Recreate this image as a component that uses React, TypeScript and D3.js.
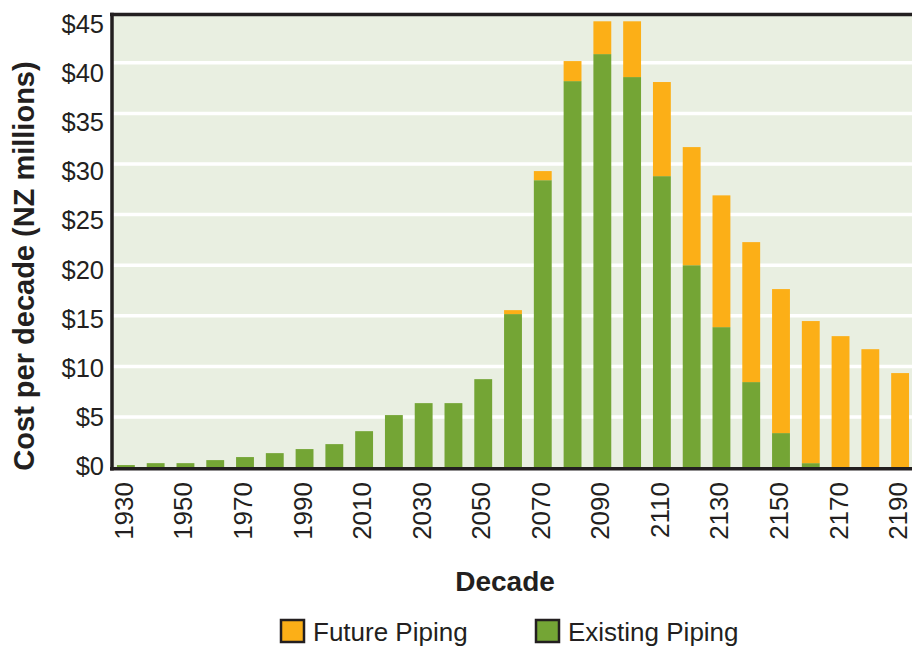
import React from "react";
import * as d3 from "d3";

const decades = [
  "1930", "1940", "1950", "1960", "1970", "1980", "1990", "2000", "2010",
  "2020", "2030", "2040", "2050", "2060", "2070", "2080", "2090", "2100",
  "2110", "2120", "2130", "2140", "2150", "2160", "2170", "2180", "2190",
];
const existingPiping = [
  0.25, 0.44, 0.44, 0.74, 1.04, 1.43, 1.83, 2.32, 3.6, 5.19, 6.37, 6.37, 8.74,
  15.17, 28.4, 38.19, 40.86, 38.59, 28.8, 20.0, 13.88, 8.45, 3.41, 0.44, 0, 0, 0,
];
const futurePiping = [
  0, 0, 0, 0, 0, 0, 0, 0, 0, 0, 0, 0, 0, 0.39, 0.9, 1.98, 3.24, 5.51, 9.3,
  11.67, 13.02, 13.83, 14.23, 14.04, 12.99, 11.7, 9.34,
];
const xTickLabels = [
  "1930", "1950", "1970", "1990", "2010", "2030", "2050", "2070", "2090",
  "2110", "2130", "2150", "2170", "2190",
];
const yTicks = [0, 5, 10, 15, 20, 25, 30, 35, 40, 45];
const gridValues = [5, 10, 15, 20, 25, 30, 35, 40];
const legendItems = [
  { label: "Future Piping", color: "#fcaf17" },
  { label: "Existing Piping", color: "#74a535" },
];

const W = 912;
const H = 648;
const FONT = "'Liberation Sans', Arial, Helvetica, sans-serif";
const DARK = "#231f20";
const GREEN = "#74a535";
const ORANGE = "#fcaf17";

export default function App() {
  const plotLeft = 112;
  const plotTop = 14.5;
  const plotBottom = 468.8;

  const x = d3
    .scaleBand<string>()
    .domain(decades)
    .range([111, 915])
    .paddingInner(0.4)
    .paddingOuter(0.2);
  const y = d3.scaleLinear().domain([0, 45]).range([467.6, 12.2]);
  const yLabel = d3.scaleLinear().domain([0, 45]).range([466, 24]);

  const legendX = [281, 536];

  return (
    <svg
      width={W}
      height={H}
      style={{ position: "absolute", left: 0, top: 0, background: "#fff" }}
      fontFamily={FONT}
    >
      <rect
        x={plotLeft}
        y={plotTop}
        width={W - plotLeft}
        height={plotBottom - plotTop}
        fill="#e9efe1"
      />
      {gridValues.map((v) => (
        <line
          key={v}
          x1={plotLeft}
          x2={W}
          y1={y(v)}
          y2={y(v)}
          stroke="#ffffff"
          strokeWidth={3.5}
        />
      ))}
      {decades.map((d, i) => {
        const e = existingPiping[i];
        const f = futurePiping[i];
        return (
          <g key={d}>
            {e > 0 && (
              <rect
                x={x(d)}
                y={y(e)}
                width={x.bandwidth()}
                height={y(0) - y(e)}
                fill={GREEN}
              />
            )}
            {f > 0 && (
              <rect
                x={x(d)}
                y={y(e + f)}
                width={x.bandwidth()}
                height={y(e) - y(e + f)}
                fill={ORANGE}
              />
            )}
          </g>
        );
      })}
      {/* frame */}
      <line x1={plotLeft - 2} x2={W} y1={plotTop} y2={plotTop} stroke={DARK} strokeWidth={3.5} />
      <line x1={plotLeft} x2={plotLeft} y1={plotTop - 1.7} y2={plotBottom + 1.7} stroke={DARK} strokeWidth={3.5} />
      <line x1={plotLeft - 2} x2={W} y1={plotBottom} y2={plotBottom} stroke={DARK} strokeWidth={3.5} />

      {/* y tick labels */}
      {yTicks.map((v) => (
        <text
          key={v}
          x={104}
          y={yLabel(v)}
          textAnchor="end"
          dominantBaseline="central"
          fontSize={25.5}
          fill={DARK}
        >
          {`$${v}`}
        </text>
      ))}

      {/* x tick labels */}
      {xTickLabels.map((d) => {
        const cx = (x(d) ?? 0) + x.bandwidth() / 2 + 7;
        return (
          <text
            key={d}
            transform={`translate(${cx},482) rotate(-90)`}
            textAnchor="end"
            fontSize={26}
            fill={DARK}
          >
            {d}
          </text>
        );
      })}

      {/* axis titles */}
      <text
        transform="translate(34,266) rotate(-90)"
        textAnchor="middle"
        fontSize={29}
        fontWeight="bold"
        fill={DARK}
      >
        Cost per decade (NZ millions)
      </text>
      <text x={505} y={591} textAnchor="middle" fontSize={28} fontWeight="bold" fill={DARK}>
        Decade
      </text>

      {/* legend */}
      {legendItems.map((item, i) => (
        <g key={item.label}>
          <rect
            x={legendX[i]}
            y={620}
            width={23}
            height={22}
            fill={item.color}
            stroke={DARK}
            strokeWidth={2.5}
          />
          <text x={legendX[i] + 32} y={641} fontSize={26} fill={DARK}>
            {item.label}
          </text>
        </g>
      ))}
    </svg>
  );
}
